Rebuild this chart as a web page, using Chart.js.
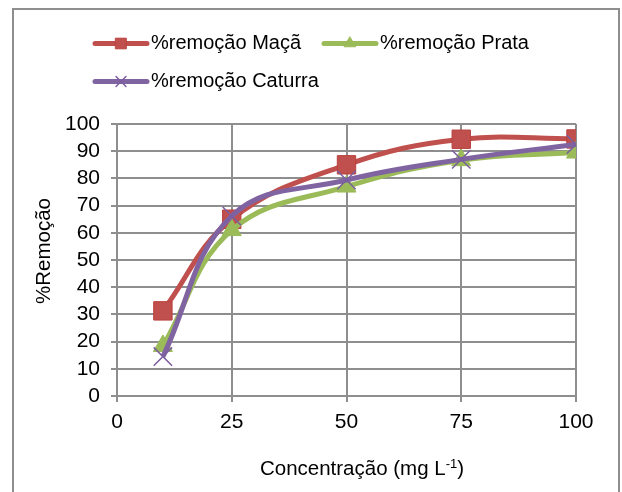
<!DOCTYPE html>
<html>
<head>
<meta charset="utf-8">
<script src="https://cdn.jsdelivr.net/npm/chart.js@4"></script>
<style>
  body { margin: 0; background: #fff; }
  #wrap { position: relative; width: 622px; height: 492px; overflow: hidden; }
  #frame { position: absolute; left: 12px; top: 8px; width: 604px; height: 520px; border: 2px solid #8e8e8e; border-bottom: none; }
  canvas { position: absolute; left: 0; top: 0; }
</style>
</head>
<body>
<div id="wrap">
  <div id="frame"></div>
  <canvas id="graph" width="622" height="492"></canvas>
</div>
<script>
// concentration (mg/L) and % removal per variety
const conc = [10, 25, 50, 75, 100];
const maca = [31.3, 65, 85, 94.4, 94.5];
const prata = [18.4, 61, 77, 86.7, 89.5];
const caturra = [14.5, 66.2, 79.4, 87, 92.5];
const names = ['%remoção Maçã', '%remoção Prata', '%remoção Caturra'];
const xTitle = ['Concentração (mg L', '-1', ')'];
const yTitle = '%Remoção';

const FONT = '"Liberation Sans", Arial, sans-serif';
const gridGrey = '#8e8e8e';

function toPoints(ys) {
	return conc.map((x, i) => ({ x: x, y: ys[i] }));
}

// Excel style legend: line with the marker in the middle
const excelLegend = {
	id: 'excelLegend',
	afterDraw(chart) {
		const ctx = chart.ctx;
		const spots = [[93, 43.5], [322, 43.5], [93, 81.5]];
		const sizes = [7.5, 6.5, 7];
		chart.data.datasets.forEach((ds, i) => {
			const x = spots[i][0], y = spots[i][1];
			ctx.save();
			ctx.strokeStyle = ds.borderColor;
			ctx.lineWidth = 5;
			ctx.lineCap = 'round';
			ctx.beginPath();
			ctx.moveTo(x + 2, y);
			ctx.lineTo(x + 54, y);
			ctx.stroke();
			ctx.fillStyle = ds.pointBackgroundColor;
			ctx.strokeStyle = ds.pointBorderColor;
			ctx.lineWidth = ds.pointBorderWidth;
			Chart.helpers.drawPoint(ctx, { pointStyle: ds.pointStyle, radius: sizes[i], borderWidth: ds.pointBorderWidth, rotation: 0 }, x + 28, y);
			ctx.fillStyle = '#000';
			ctx.font = '20px ' + FONT;
			ctx.textBaseline = 'middle';
			ctx.fillText(ds.label, x + 58, y);
			ctx.restore();
		});
	}
};

// axis titles, with the superscript in the x title
const axisTitles = {
	id: 'axisTitles',
	afterDraw(chart) {
		const ctx = chart.ctx;
		ctx.save();
		ctx.fillStyle = '#000';
		ctx.textBaseline = 'alphabetic';
		const big = '20.5px ' + FONT, small = '13px ' + FONT;
		ctx.font = big;
		const w1 = ctx.measureText(xTitle[0]).width, w3 = ctx.measureText(xTitle[2]).width;
		ctx.font = small;
		const w2 = ctx.measureText(xTitle[1]).width;
		let x = 362 - (w1 + w2 + w3) / 2;
		const base = 475;
		ctx.font = big;
		ctx.fillText(xTitle[0], x, base);
		x += w1;
		ctx.font = small;
		ctx.fillText(xTitle[1], x, base - 7);
		x += w2;
		ctx.font = big;
		ctx.fillText(xTitle[2], x, base);

		ctx.translate(49.5, 251);
		ctx.rotate(-Math.PI / 2);
		ctx.textAlign = 'center';
		ctx.fillText(yTitle, 0, 0);
		ctx.restore();
	}
};

const ctx = document.getElementById('graph').getContext('2d');

new Chart(ctx, {
	type: 'line',
	data: {
		datasets: [{
			label: names[0],
			data: toPoints(maca),
			borderColor: '#c0504d',
			backgroundColor: '#c0504d',
			pointBackgroundColor: '#c0504d',
			pointBorderColor: '#b9403d',
			pointBorderWidth: 1,
			pointStyle: 'rect',
			pointRadius: 13,
			borderWidth: 5,
			order: 2
		},
		{
			label: names[1],
			data: toPoints(prata),
			borderColor: '#9bbb59',
			backgroundColor: '#9bbb59',
			pointBackgroundColor: '#9bbb59',
			pointBorderColor: '#9bbb59',
			pointBorderWidth: 1,
			pointStyle: 'triangle',
			pointRadius: 11,
			borderWidth: 5,
			order: 1
		},
		{
			label: names[2],
			data: toPoints(caturra),
			borderColor: '#8064a2',
			backgroundColor: '#8064a2',
			pointBackgroundColor: '#8064a2',
			pointBorderColor: '#7b5ea0',
			pointBorderWidth: 1.5,
			pointStyle: 'crossRot',
			pointRadius: 13,
			borderWidth: 5,
			order: 0
		}]
	},
	options: {
		animation: false,
		responsive: false,
		layout: {
			padding: { top: 124, right: 46, bottom: 0, left: 12 }
		},
		elements: {
			line: { tension: 0.4, fill: false },
			point: { hoverRadius: 13 }
		},
		scales: {
			x: {
				type: 'linear',
				min: 0,
				max: 100,
				afterFit: s => { s.height = 96; },
				border: { color: gridGrey, width: 2 },
				grid: { color: gridGrey, lineWidth: 2, tickLength: 6 },
				ticks: { stepSize: 25, autoSkip: false, maxRotation: 0, color: '#000', padding: 8, font: { family: FONT, size: 21 } }
			},
			y: {
				min: 0,
				max: 100,
				afterFit: s => { s.width = 105; },
				border: { color: gridGrey, width: 2 },
				grid: { color: gridGrey, lineWidth: 2, tickLength: 6 },
				ticks: { stepSize: 10, autoSkip: false, color: '#000', padding: 11, font: { family: FONT, size: 21 } }
			}
		},
		plugins: {
			legend: { display: false },
			tooltip: { enabled: false }
		}
	},
	plugins: [excelLegend, axisTitles]
});
</script>
</body>
</html>
